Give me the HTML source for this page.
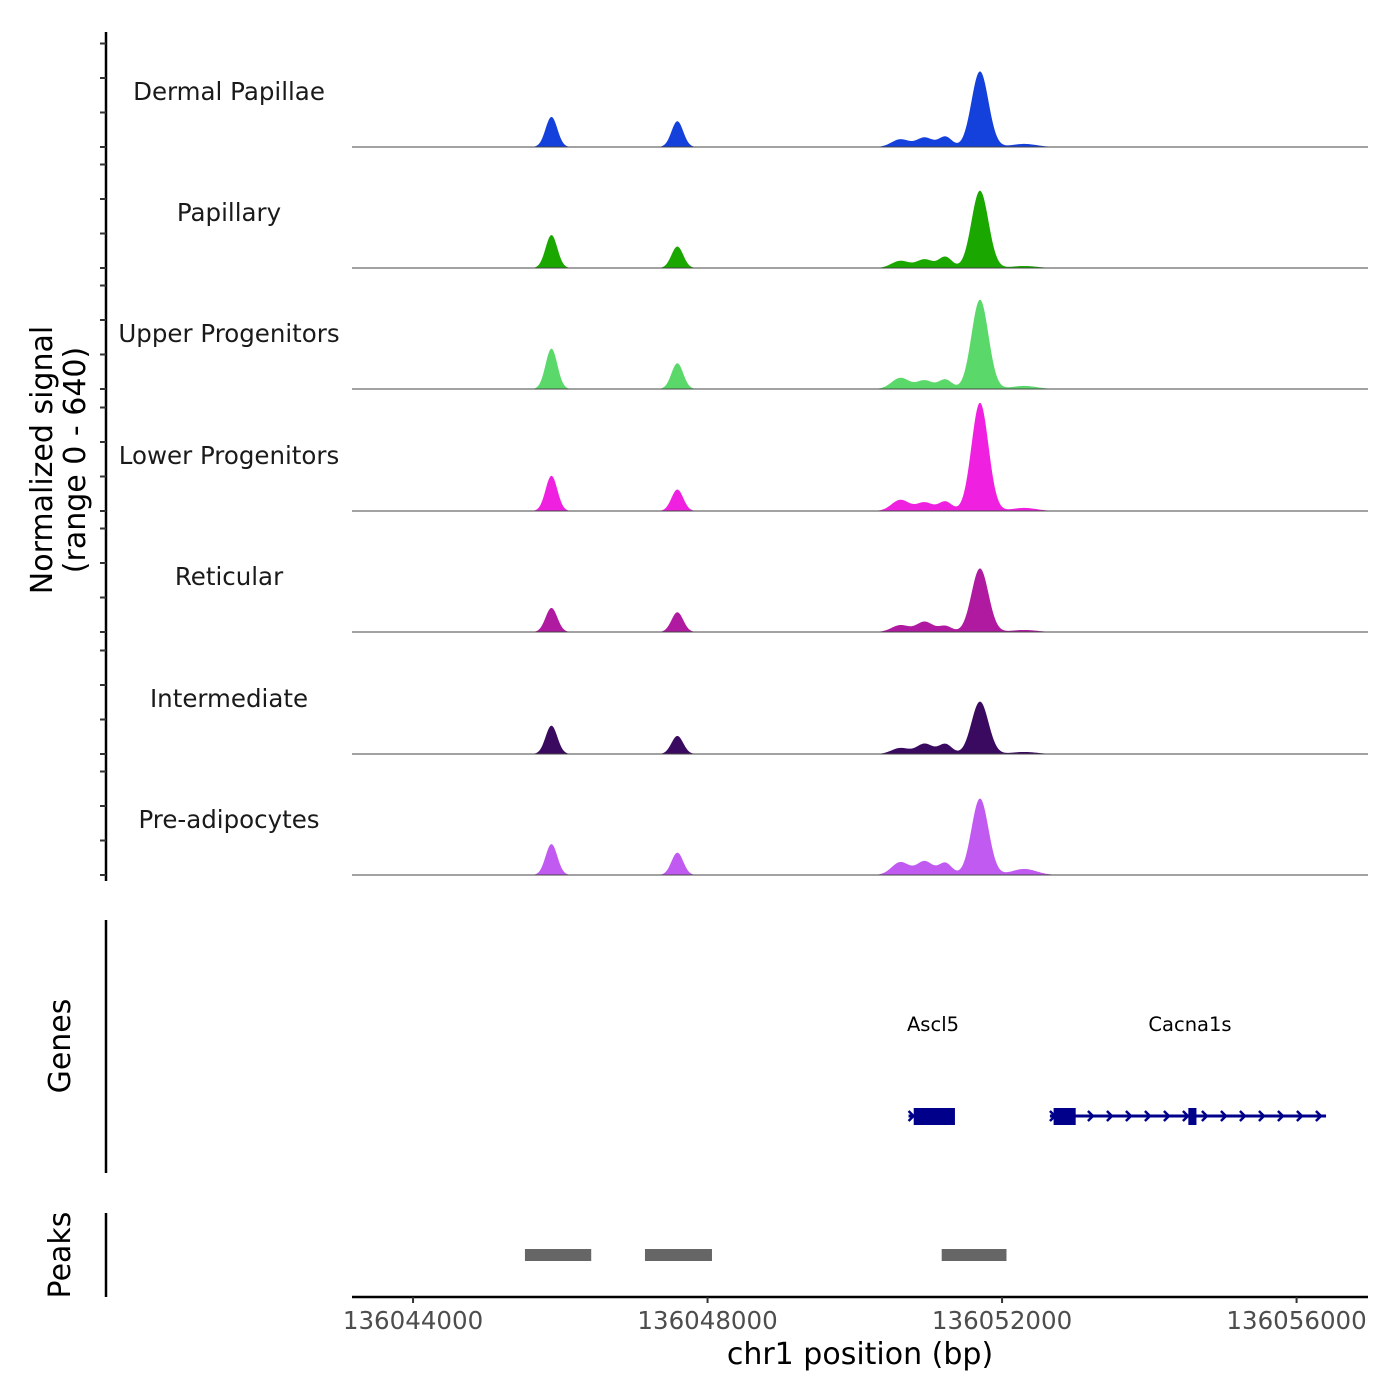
<!DOCTYPE html>
<html><head><meta charset="utf-8"><style>
html,body{margin:0;padding:0;background:#fff;}
svg{display:block;font-family:"DejaVu Sans","Liberation Sans",sans-serif;}
</style></head>
<body>
<svg id="chart" width="1400" height="1400" viewBox="0 0 1400 1400">
<rect width="1400" height="1400" fill="#fff"/>
<g id="tracks"></g>
<g id="yaxis"></g>
<text transform="translate(52,460) rotate(-90)" text-anchor="middle" font-size="30" fill="#000">Normalized signal</text>
<text transform="translate(85,460) rotate(-90)" text-anchor="middle" font-size="30" fill="#000">(range 0 - 640)</text>
<line x1="106" y1="920" x2="106" y2="1173" stroke="#000" stroke-width="2.5"/>
<text transform="translate(70,1046) rotate(-90)" text-anchor="middle" font-size="30">Genes</text>
<line x1="106" y1="1213" x2="106" y2="1297" stroke="#000" stroke-width="2.5"/>
<text transform="translate(70,1255) rotate(-90)" text-anchor="middle" font-size="30">Peaks</text>
<g id="genes"></g>
<g id="peaks"></g>
<g id="xaxis"></g>
<text x="860" y="1364" text-anchor="middle" font-size="30">chr1 position (bp)</text>
</svg>
<script>
const trackNames = ["Dermal Papillae","Papillary","Upper Progenitors","Lower Progenitors","Reticular","Intermediate","Pre-adipocytes"];
const trackColors = ["#1440dc","#1aa800","#5ad86a","#f020e0","#b01aa0","#3a0a60","#c05af0"];
const peakCenters = [136045880,136047590,136050620,136050950,136051230,136051700,136052300];
const peakWidths = [80,80,120,110,90,115,170];
const sigDermal = [175,150,45,55,60,440,18];
const sigPapillary = [192,125,42,50,65,450,12];
const sigUpper = [235,150,65,50,55,520,18];
const sigLower = [205,125,65,50,55,630,18];
const sigReticular = [140,115,40,60,35,370,12];
const sigIntermediate = [165,105,35,60,58,305,12];
const sigPreadipo = [180,130,75,80,70,445,35];
const trackSignals = [sigDermal,sigPapillary,sigUpper,sigLower,sigReticular,sigIntermediate,sigPreadipo];
const xTicks = [136044000,136048000,136052000,136056000];
const peakStarts = [136045520,136047150,136051180];
const peakEnds = [136046420,136048060,136052060];
const geneNames = ["Ascl5","Cacna1s"];
const geneStarts = [136050730,136052650];
const geneEnds = [136051260,136056400];
const exonStarts = [136050800,136052700,136054530];
const exonEnds = [136051360,136053000,136054640];

const NS="http://www.w3.org/2000/svg";
const X0=352,X1=1368,D0=136043171,D1=136056970;
const xs=v=>X0+(v-D0)/(D1-D0)*(X1-X0);
const baselines=[147,268,389,511,632,754,875];
const ys=(v,b)=>b-v/640*110;
function mk(tag,attrs,parent){const e=document.createElementNS(NS,tag);for(const k in attrs)e.setAttribute(k,attrs[k]);parent.appendChild(e);return e;}
const tracks=document.getElementById('tracks');
trackNames.forEach((name,i)=>{
  const b=baselines[i];
  const g=mk('g',{},tracks);
  
  
  let d='M'+X0+','+b;
  for(let px=X0;px<=X1;px++){
    const bp=D0+(px-X0)/(X1-X0)*(D1-D0);
    let v=0;
    peakCenters.forEach((c,j)=>{const z=(bp-c)/peakWidths[j];v+=trackSignals[i][j]*Math.exp(-0.5*z*z);});
    d+=' L'+px+','+ys(v,b).toFixed(2);
  }
  d+=' L'+X1+','+b+' Z';
  const p=mk('path',{d:d,fill:trackColors[i]},g);
  
  
  const l=mk('line',{x1:X0,x2:X1,y1:b,y2:b,stroke:'#444','stroke-width':1},g);
  
  
  const t=mk('text',{x:229,y:b-47,'text-anchor':'middle','font-size':24.5,fill:'#1a1a1a'},g);
  t.textContent=name;
  
  
});
const ya=document.getElementById('yaxis');
mk('line',{x1:106,y1:32,x2:106,y2:881,stroke:'#000','stroke-width':2.5},ya);
baselines.forEach(b=>{for(let k=0;k<4;k++){const y=b-k*34.5;const tk=mk('line',{x1:100,x2:106,y1:y,y2:y,stroke:'#333','stroke-width':2},ya);

}});
const gn=document.getElementById('genes');
geneNames.forEach((n,i)=>{
  const x1=xs(geneStarts[i]),x2=xs(geneEnds[i]);
  const ln=mk('line',{x1:x1,x2:x2,y1:1116,y2:1116,stroke:'#00008b','stroke-width':3},gn);
  
  
  for(let x=x1+3;x<x2;x+=19){const c=mk('path',{d:`M${x-3},${1111} L${x+2},${1116} L${x-3},${1121}`,fill:'none',stroke:'#00008b','stroke-width':2.5},gn);
  
  }
  const t=mk('text',{x:(i==0?933:1190),y:1031,'text-anchor':'middle','font-size':19.5},gn);
  t.textContent=n;
  
  
});
exonStarts.forEach((s,i)=>{const r=mk('rect',{x:xs(s),y:1108,width:xs(exonEnds[i])-xs(s),height:17,fill:'#00008b'},gn);

});
const pk=document.getElementById('peaks');
peakStarts.forEach((s,i)=>{const r=mk('rect',{x:xs(s),y:1249,width:xs(peakEnds[i])-xs(s),height:12,fill:'#666'},pk);

});
const xa=document.getElementById('xaxis');
mk('line',{x1:X0,x2:X1,y1:1297,y2:1297,stroke:'#000','stroke-width':2.5},xa);
xTicks.forEach(v=>{const x=xs(v);
const tk=mk('line',{x1:x,x2:x,y1:1297,y2:1303,stroke:'#333','stroke-width':2},xa);


const t=mk('text',{x:x,y:1329,'text-anchor':'middle','font-size':24.5,fill:'#4d4d4d'},xa);
t.textContent=v;

});
</script>
</body></html>
